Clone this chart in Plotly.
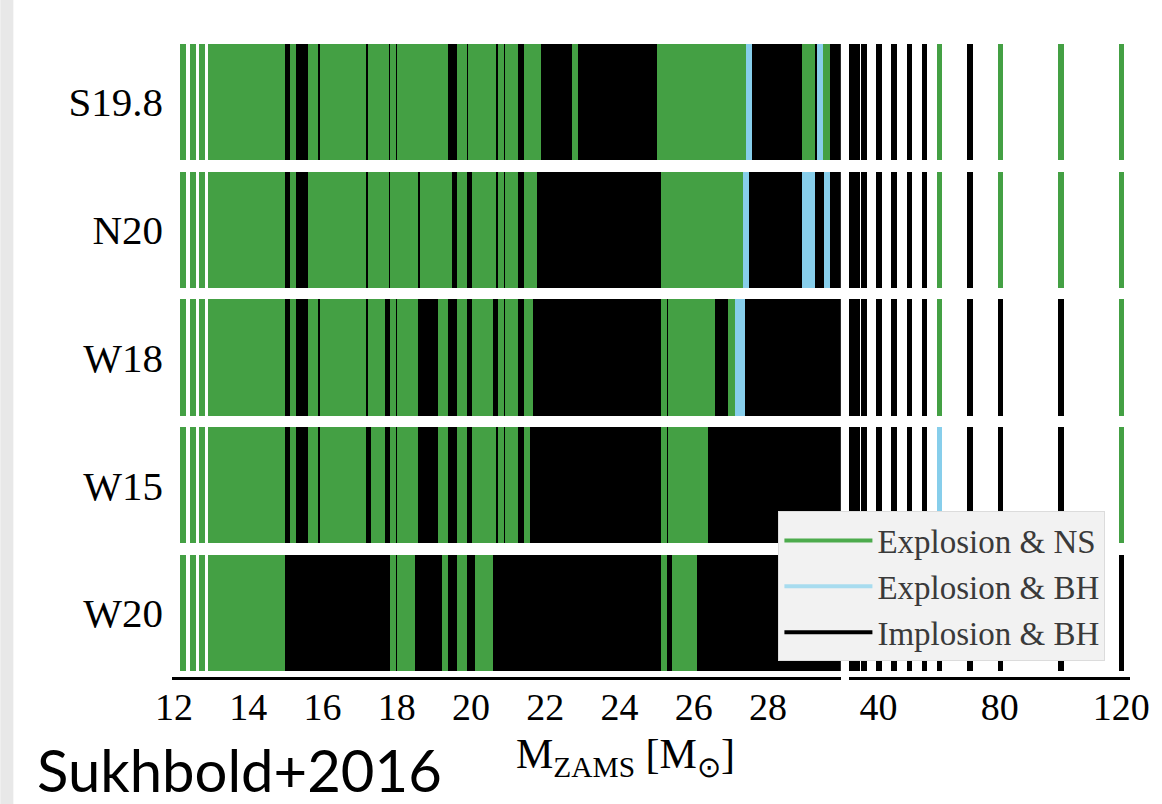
import plotly.graph_objects as go

# ---------------- data ----------------
ROWS = ["S19.8", "N20", "W18", "W15", "W20"]          # top to bottom
ROW_POS = [4, 3, 2, 1, 0]

MASS_LOW = [12.25, 12.5, 12.75,
            13.0, 13.1, 13.2, 13.3, 13.4, 13.5, 13.6, 13.7, 13.8, 13.9,
            14.0, 14.1, 14.2, 14.3, 14.4, 14.5, 14.6, 14.7, 14.8, 14.9,
            15.0, 15.1, 15.2, 15.3, 15.4, 15.5, 15.6, 15.7, 15.8, 15.9,
            16.0, 16.1, 16.2, 16.3, 16.4, 16.5, 16.6, 16.7, 16.8, 16.9,
            17.0, 17.1, 17.2, 17.3, 17.4, 17.5, 17.6, 17.7, 17.8, 17.9,
            18.0, 18.1, 18.2, 18.3, 18.4, 18.5, 18.6, 18.7, 18.8, 18.9,
            19.0, 19.1, 19.2, 19.3, 19.4, 19.5, 19.6, 19.7, 19.8, 19.9,
            20.0, 20.1, 20.2, 20.3, 20.4, 20.5, 20.6, 20.7, 20.8, 20.9,
            21.0, 21.1, 21.2, 21.3, 21.4, 21.5, 21.6, 21.7, 21.8, 21.9,
            22.0, 22.1, 22.2, 22.3, 22.4, 22.5, 22.6, 22.7, 22.8, 22.9,
            23.0, 23.1, 23.2, 23.3, 23.4, 23.5, 23.6, 23.7, 23.8, 23.9,
            24.0, 24.1, 24.2, 24.3, 24.4, 24.5, 24.6, 24.7, 24.8, 24.9,
            25.0, 25.1, 25.2, 25.3, 25.4, 25.5, 25.6, 25.7, 25.8, 25.9,
            26.0, 26.1, 26.2, 26.3, 26.4, 26.5, 26.6, 26.7, 26.8, 26.9,
            27.0, 27.1, 27.2, 27.3, 27.4, 27.5, 27.6, 27.7, 27.8, 27.9,
            28.0, 28.1, 28.2, 28.3, 28.4, 28.5, 28.6, 28.7, 28.8, 28.9,
            29.0, 29.1, 29.2, 29.3, 29.4, 29.5, 29.6, 29.7, 29.8, 29.9,
            30.0]
MASS_HIGH = [31, 32, 33, 35, 40, 45, 50, 55, 60, 70, 80, 100, 120]

# outcome codes: G = explosion & NS, L = explosion & BH, B = implosion & BH
# chunks: 12.25-12.75 | 13.x | 14.x | ... | 29.x | 30.0
OUT_LOW_S198 = ["GGG", "GGGGGGGGGG", "GGGGGGGGGG", "BBGBBBBGGB", "GGGGGGGGGG",
                "GGBGGGGGBG", "BGGGGGGGGG", "GGGGBBBGGB", "GGGGGGGBGB",
                "GGGBBGGGGB", "BBBBBBBBGB", "BBBBBBBBBB", "BBBBBBBBBB",
                "BGGGGGGGGG", "GGGGGGGGGG", "GGGGGLBBBB", "BBBBBBBBBB",
                "GGGBLGGBBB", "B"]
OUT_LOW_N20 = ["GGG", "GGGGGGGGGG", "GGGGGGGGGG", "BBGBBBBGGG", "GGGGGGGGGG",
               "GGBGGGGGBG", "GGGGGGBGGG", "GGGGGBBGGB", "BGGGGGGBGB",
               "GGGBBGGGBB", "BBBBBBBBBB", "BBBBBBBBBB", "BBBBBBBBBB",
               "BBGGGGGGGG", "GGGGGGGGGG", "GGGGLBBBBB", "BBBBBBBBBB",
               "LLLBBBLBBB", "B"]
OUT_LOW_W18 = ["GGG", "GGGGGGGGGG", "GGGGGGGGGG", "BBGBBBBGGB", "GGGGGGGGGG",
               "GGBGGGGBBG", "BGGGGGBBBB", "BBGGBBBGGB", "BGGGGGBBGB",
               "GGGBBGGBBB", "BBBBBBBBBB", "BBBBBBBBBB", "BBBBBBBBBB",
               "BBGBGGGGGG", "GGGGGGBBBB", "GGLLBBBBBB", "BBBBBBBBBB",
               "BBBBBBBBBB", "B"]
OUT_LOW_W15 = ["GGG", "GGGGGGGGGG", "GGGGGGGGGG", "BBGBBBBGGB", "GGGGGGGGGG",
               "GGBBGGGBBG", "BGGGGGBBBB", "BBGGBBBGGB", "BGGGGGGBGB",
               "GGGBBGBBBB", "BBBBBBBBBB", "BBBBBBBBBB", "BBBBBBBBBB",
               "BBGBGGGGGG", "GGGGBBBBBB", "BBBBBBBBBB", "BBBBBBBBBB",
               "BBBBBBBBBB", "B"]
OUT_LOW_W20 = ["GGG", "GGGGGGGGGG", "GGGGGGGGGG", "BBBBBBBBBB", "BBBBBBBBBB",
               "BBBBBBBBBG", "BGGGGBBBBB", "BBBGBBBGGB", "BBGGGGBBBB",
               "BBBBBBBBBB", "BBBBBBBBBB", "BBBBBBBBBB", "BBBBBBBBBB",
               "BBGBBGGGGG", "GBBBBBBBBB", "BBBBBBBBBB", "BBBBBBBBBB",
               "BBBBBBBBBB", "B"]

OUT_HIGH_S198 = "BBBBBBBBGBGGG"
OUT_HIGH_N20 = "BBBBBBBBGBGGG"
OUT_HIGH_W18 = "BBBBBBBBGBBBG"
OUT_HIGH_W15 = "BBBBBBBBLBBBG"
OUT_HIGH_W20 = "BBBBBBBBBBBBB"

OUT_LOW = ["".join(OUT_LOW_S198), "".join(OUT_LOW_N20), "".join(OUT_LOW_W18),
           "".join(OUT_LOW_W15), "".join(OUT_LOW_W20)]
OUT_HIGH = [OUT_HIGH_S198, OUT_HIGH_N20, OUT_HIGH_W18, OUT_HIGH_W15, OUT_HIGH_W20]

CATEGORIES = ["Explosion & NS", "Explosion & BH", "Implosion & BH"]
CODES = ["G", "L", "B"]
COLORS = {"G": "#44a044", "L": "#87ceeb", "B": "#000000"}
LEGEND_COLORS = {"G": "#4dab4d", "L": "#a8dcef", "B": "#000000"}

# ---------------- style ----------------
SERIF = "Liberation Serif"
ROW_H = 0.91
W_LOW = 0.16
W_HIGH = 1.8

fig = go.Figure()

# draw black first, then green, then light blue on top
for code in ["B", "G", "L"]:
    for masses, outs, xa, w in [(MASS_LOW, OUT_LOW, "x", W_LOW),
                                (MASS_HIGH, OUT_HIGH, "x2", W_HIGH)]:
        xs, bases = [], []
        for r, pos in enumerate(ROW_POS):
            for m, c in zip(masses, outs[r]):
                if c == code:
                    xs.append(m)
                    bases.append(pos - ROW_H / 2)
        if not xs:
            continue
        fig.add_trace(go.Bar(
            x=xs, y=[ROW_H] * len(xs), base=bases, width=[w] * len(xs),
            marker=dict(color=COLORS[code], line=dict(width=0)),
            xaxis=xa, yaxis="y", showlegend=False, hoverinfo="skip"))

# legend entries as line samples
for name, code in zip(CATEGORIES, CODES):
    fig.add_trace(go.Scatter(
        x=[None], y=[None], mode="lines", name=name,
        line=dict(color=LEGEND_COLORS[code], width=4),
        xaxis="x", yaxis="y"))

axis_common = dict(showgrid=False, zeroline=False, showline=True,
                   linecolor="black", linewidth=3, ticks="",
                   ticklabelstandoff=-6,
                   tickfont=dict(family=SERIF, size=38, color="black"),
                   anchor="y", fixedrange=True)

fig.update_layout(
    width=1162, height=804,
    margin=dict(l=172, r=30, t=38, b=127, pad=0),
    paper_bgcolor="white", plot_bgcolor="white",
    barmode="overlay", bargap=0,
    xaxis=dict(domain=[0, 0.6979], range=[11.946, 29.957],
               tickvals=[12, 14, 16, 18, 20, 22, 24, 26, 28], **axis_common),
    xaxis2=dict(domain=[0.70625, 1], range=[30.13, 122.9],
                tickvals=[40, 80, 120], **axis_common),
    yaxis=dict(range=[-0.5, 4.5], tickvals=ROW_POS, ticktext=ROWS,
               showgrid=False, zeroline=False, showline=False, ticks="",
               ticklabelstandoff=8,
               tickfont=dict(family=SERIF, size=41, color="black")),
    legend=dict(x=0.633, y=0.259, xanchor="left", yanchor="top",
                bgcolor="#f2f2f2", bordercolor="#dcdcdc", borderwidth=1,
                font=dict(family=SERIF, size=33, color="#3a3a3a"),
                itemwidth=88),
    annotations=[
        dict(text="M<sub>ZAMS</sub> [M<sub>⊙</sub>]", xref="paper", yref="paper",
             x=0.473, y=-0.125, xanchor="center", yanchor="middle",
             showarrow=False, font=dict(family=SERIF, size=42, color="black")),
        dict(text="Sukhbold+2016", xref="paper", yref="paper",
             x=-0.1427, y=-0.145, xanchor="left", yanchor="middle",
             showarrow=False, font=dict(family="Lato", size=58, color="black")),
    ],
    shapes=[dict(type="rect", xref="paper", yref="paper",
                 x0=-0.1792, x1=-0.1656, y0=-0.2, y1=1.06,
                 fillcolor="#e8e8e8", line=dict(width=0), layer="below")],
)

fig.write_html("out.html")
